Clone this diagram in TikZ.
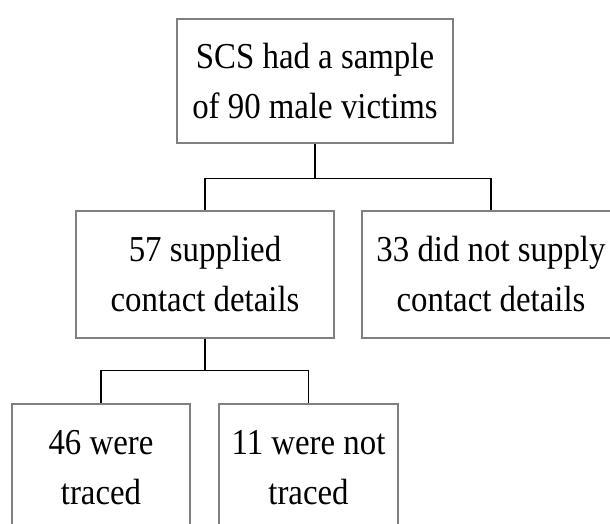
\documentclass[tikz,border=0pt]{standalone}
\usepackage{fontspec}
\setmainfont{Liberation Serif}[FakeStretch=0.9]
\usepackage{tikz}
\usetikzlibrary{positioning, calc}
\usepackage{xcolor}
\definecolor{boxgray}{RGB}{128,128,128}

\tikzset{
	box/.style={draw=boxgray, line width=1.5pt, inner sep=0pt, align=center,
		font=\fontsize{36.5}{50}\selectfont},
	link/.style={-, line width=1.3pt, black}
}

\begin{document}
\begin{tikzpicture}[x=1pt, y=-1pt]
					\useasboundingbox (0, 0) rectangle (610, 523);
					\clip (0, 0) rectangle (610, 523);

					\node[box, minimum width=276pt, minimum height=124pt] at (315, 81) (sample) {SCS had a sample\\of 90 male victims};
					\node[box, minimum width=258pt, minimum height=127pt] at (205, 274.5) (supplied) {57 supplied\\contact details};
					\node[box, minimum width=258pt, minimum height=127pt] at (491, 274.5) (nosupply) {33 did not supply\\contact details};
					\node[box, minimum width=178pt, minimum height=127pt] at (101, 467.5) (traced) {46 were\\traced};
					\node[box, minimum width=179pt, minimum height=127pt] at (308.5, 467.5) (untraced) {11 were not\\traced};

					\draw[link] (sample.south) -- ++(0, 35) -| (supplied.north);
					\draw[link] (sample.south) -- ++(0, 35) -| (nosupply.north);
					\draw[link] (supplied.south) -- ++(0, 32) -| (traced.north);
					\draw[link] (supplied.south) -- ++(0, 32) -| (untraced.north);
				\end{tikzpicture}
\end{document}
